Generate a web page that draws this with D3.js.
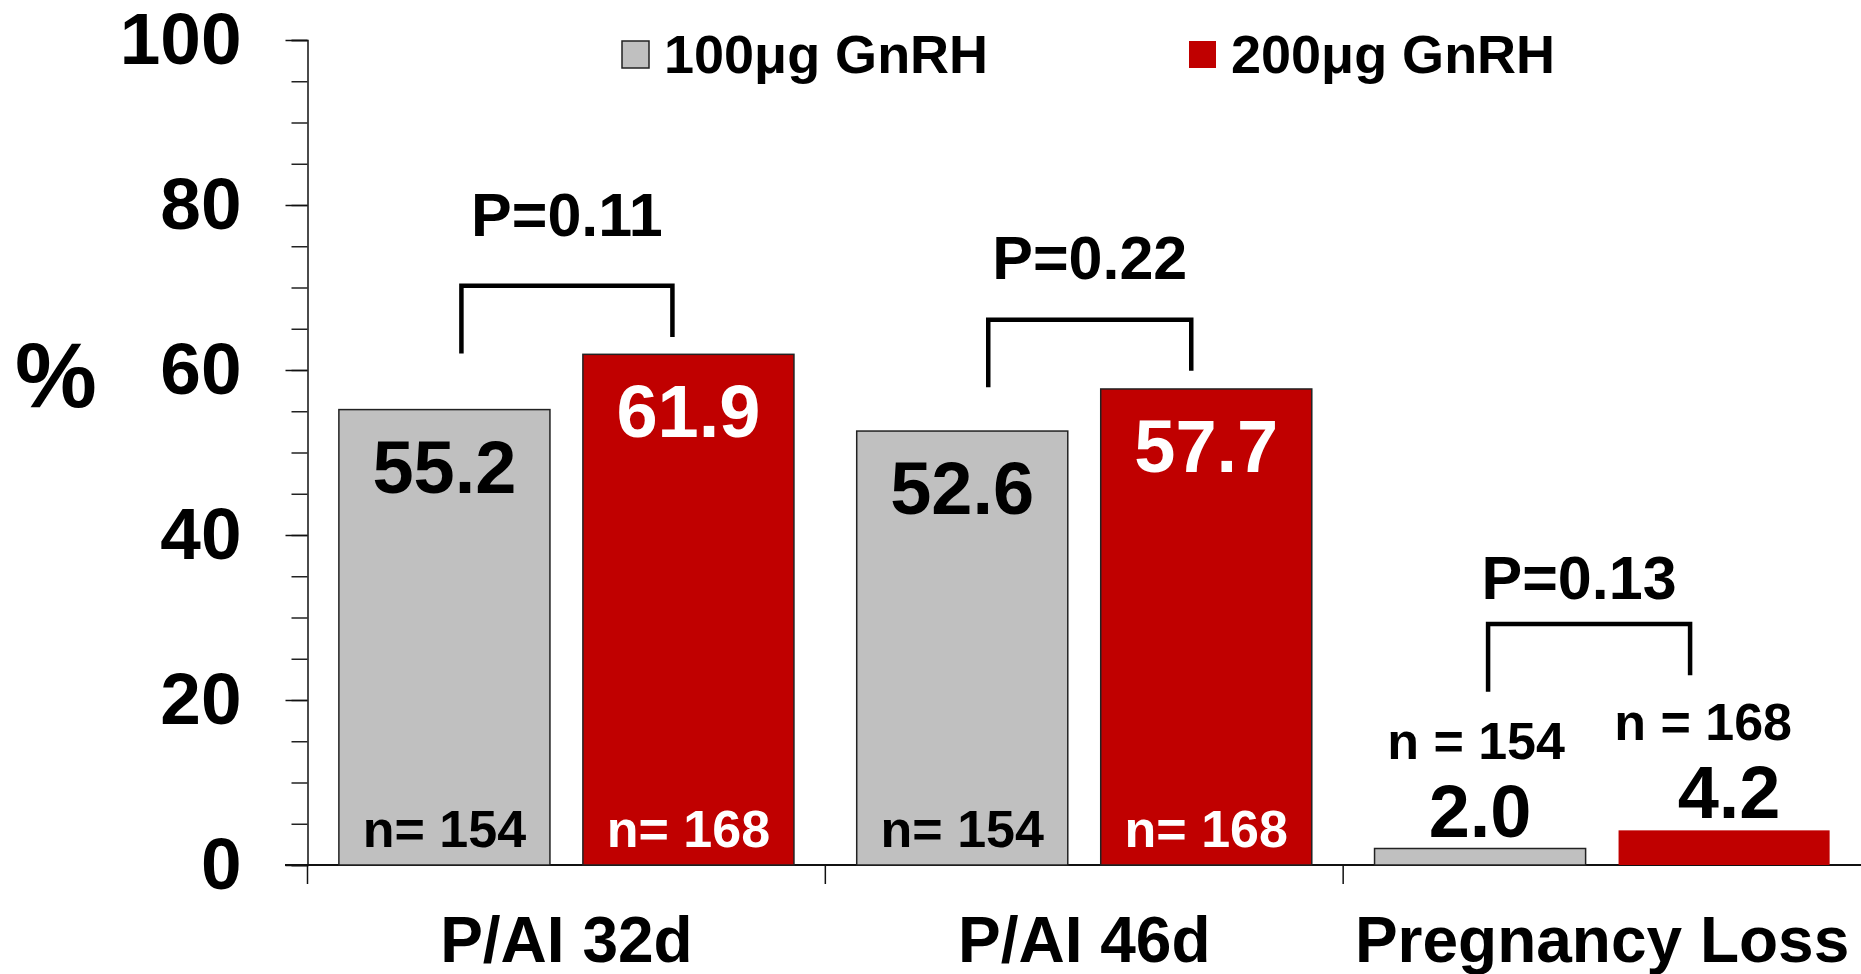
<!DOCTYPE html>
<html>
<head>
<meta charset="utf-8">
<script src="https://cdn.jsdelivr.net/npm/d3@7"></script>
<style>
  body { margin: 0; background: #fff; }
  text { font-family: "Liberation Sans", Arial, sans-serif; font-weight: bold; }
</style>
</head>
<body>
<div id="chart"></div>
<script>
const categories = ["P/AI 32d", "P/AI 46d", "Pregnancy Loss"];
const seriesNames = ["100μg GnRH", "200μg GnRH"];
const dose100 = [55.2, 52.6, 2.0];
const dose200 = [61.9, 57.7, 4.2];
const n100 = [154, 154, 154];
const n200 = [168, 168, 168];
const pValues = ["P=0.11", "P=0.22", "P=0.13"];
const yTicks = [0, 20, 40, 60, 80, 100];
const yMinorTicks = d3.range(0, 101, 5);

// bracket annotations, in % units
const bracketTop = [70.2, 66.1, 29.2];
const pLabelAt = [76.2, 71.0, 32.2];

const W = 1861, H = 974;
const colors = ["#c0c0c0", "#c00000"];

const svg = d3.select('#chart').append('svg')
  .attr('width', W)
  .attr('height', H);

const y = d3.scaleLinear().domain([0, 100]).range([865, 40]);
const x0 = d3.scaleBand().domain(categories).range([307.5, W]).padding(0);
const x1 = d3.scaleBand().domain([0, 1]).range([0, x0.bandwidth()])
  .paddingInner(0.135).paddingOuter(0.1286);

// y axis: minor ticks, then labelled ticks
svg.append('g')
  .attr('transform', 'translate(307.5,0)')
  .call(d3.axisLeft(y).tickValues(yMinorTicks).tickSize(16).tickFormat(''))
  .call(g => g.selectAll('line').attr('stroke', '#222').attr('stroke-width', 1.5))
  .call(g => g.select('.domain').attr('stroke', '#111').attr('stroke-width', 1.5));

svg.append('g')
  .attr('transform', 'translate(307.5,0)')
  .call(d3.axisLeft(y).tickValues(yTicks).tickSize(22).tickPadding(44))
  .call(g => g.select('.domain').remove())
  .call(g => g.selectAll('line').attr('stroke', '#111').attr('stroke-width', 1.5))
  .call(g => g.selectAll('text')
    .attr('fill', '#000')
    .style('font-size', '73px')
    .style('font-family', '"Liberation Sans", Arial, sans-serif')
    .style('font-weight', 'bold'));

svg.append('text')
  .attr('x', 56)
  .attr('y', 407)
  .attr('text-anchor', 'middle')
  .style('font-size', '92px')
  .text('%');

// x axis
svg.append('line')
  .attr('x1', 285).attr('x2', W)
  .attr('y1', y(0)).attr('y2', y(0))
  .attr('stroke', '#111').attr('stroke-width', 2);

svg.selectAll('.catTick')
  .data(categories)
  .enter().append('line')
  .attr('class', 'catTick')
  .attr('x1', d => x0(d)).attr('x2', d => x0(d))
  .attr('y1', y(0)).attr('y2', y(0) + 19)
  .attr('stroke', '#111').attr('stroke-width', 1.5);

svg.selectAll('.catLabel')
  .data(categories)
  .enter().append('text')
  .attr('class', 'catLabel')
  .attr('x', d => x0(d) + x0.bandwidth() / 2)
  .attr('y', 962)
  .attr('text-anchor', 'middle')
  .style('font-size', '64px')
  .text(d => d);

// bars
const rows = [];
categories.forEach((cat, i) => {
  rows.push({cat: cat, s: 0, v: dose100[i], n: n100[i]});
  rows.push({cat: cat, s: 1, v: dose200[i], n: n200[i]});
});
const barX = d => x0(d.cat) + x1(d.s);
const barMid = d => barX(d) + x1.bandwidth() / 2;
const inside = d => d.v > 10;

svg.selectAll('.bar')
  .data(rows)
  .enter().append('rect')
  .attr('class', 'bar')
  .attr('x', barX)
  .attr('y', d => y(d.v))
  .attr('width', x1.bandwidth())
  .attr('height', d => y(0) - y(d.v))
  .attr('fill', d => colors[d.s])
  .attr('stroke', d => inside(d) || d.s === 0 ? '#222' : 'none')
  .attr('stroke-width', 1.5);

// value labels
svg.selectAll('.valLabel')
  .data(rows)
  .enter().append('text')
  .attr('class', 'valLabel')
  .attr('x', d => barMid(d) + (inside(d) ? 0 : d.s * 5))
  .attr('y', d => inside(d) ? y(d.v) + 83 : y(d.v) - 12)
  .attr('text-anchor', 'middle')
  .attr('fill', d => inside(d) && d.s === 1 ? '#fff' : '#000')
  .style('font-size', '74px')
  .text(d => d.v.toFixed(1));

// n labels
svg.selectAll('.nLabel')
  .data(rows)
  .enter().append('text')
  .attr('class', 'nLabel')
  .attr('x', d => barMid(d) + (inside(d) ? 0 : [-4, -21][d.s]))
  .attr('y', d => inside(d) ? y(0) - 18 : y(d.v) - 90)
  .attr('text-anchor', 'middle')
  .attr('fill', d => inside(d) && d.s === 1 ? '#fff' : '#000')
  .style('font-size', '52px')
  .text(d => inside(d) ? 'n= ' + d.n : 'n = ' + d.n);

// P-value brackets
const legOffset = [[17, -16], [26, -15], [8, -34]];
categories.forEach((cat, i) => {
  const left = x0(cat) + x1(0) + x1.bandwidth() / 2 + legOffset[i][0];
  const right = x0(cat) + x1(1) + x1.bandwidth() / 2 + legOffset[i][1];
  const path = d3.path();
  path.moveTo(left, y(bracketTop[i] - 8.2));
  path.lineTo(left, y(bracketTop[i]));
  path.lineTo(right, y(bracketTop[i]));
  path.lineTo(right, y(bracketTop[i] - 6.2));
  svg.append('path')
    .attr('d', path.toString())
    .attr('fill', 'none')
    .attr('stroke', '#000')
    .attr('stroke-width', 4.5);
  svg.append('text')
    .attr('x', (left + right) / 2 - (i === 2 ? 10 : 0))
    .attr('y', y(pLabelAt[i]))
    .attr('text-anchor', 'middle')
    .style('font-size', '61px')
    .text(pValues[i]);
});

// legend
const legendX = [622, 1189];
seriesNames.forEach((name, i) => {
  svg.append('rect')
    .attr('x', legendX[i]).attr('y', 41)
    .attr('width', 27).attr('height', 27)
    .attr('fill', colors[i])
    .attr('stroke', i === 0 ? '#222' : 'none')
    .attr('stroke-width', 1.5);
  svg.append('text')
    .attr('x', legendX[i] + 42)
    .attr('y', 72.7)
    .style('font-size', '54px')
    .text(name);
});
</script>
</body>
</html>
